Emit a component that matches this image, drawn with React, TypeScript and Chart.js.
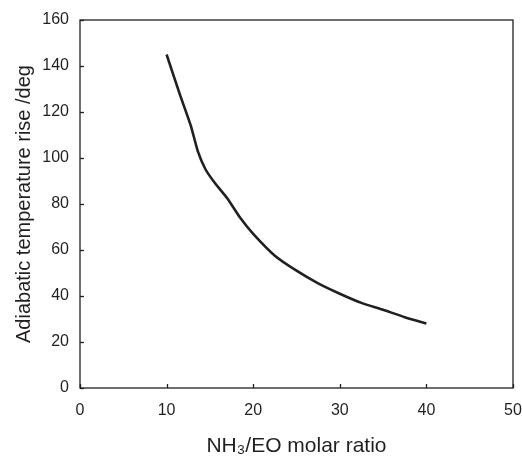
import React, { useEffect, useRef } from "react";
import { Chart, registerables } from "chart.js";

Chart.register(...registerables);

const ratioValues = [10, 11.5, 12.8, 13.6, 14.5, 15.6, 17, 18.5, 20, 22.5, 25, 27.5, 30, 32.5, 35, 37.5, 40];
const tempRise = [145, 128, 114, 103, 95, 89, 82.5, 74, 67, 57.5, 51, 45.5, 41, 37, 34, 30.8, 28];
const xTitle = "NH\u2083/EO molar ratio";
const yTitle = "Adiabatic temperature rise /deg";

const FONT = "'Liberation Sans', Arial, Helvetica, sans-serif";
const INK = "#231f20";

const frameAndTicks = {
  id: "frameAndTicks",
  afterDatasetsDraw(chart: any) {
    const { ctx, chartArea } = chart;
    const { left, right, top, bottom } = chartArea;
    ctx.save();
    ctx.strokeStyle = INK;
    ctx.lineWidth = 1.3;
    ctx.strokeRect(left, top, right - left, bottom - top);
    const len = 4;
    const xs = chart.scales.x;
    xs.ticks.forEach((t: any) => {
      const px = Math.round(xs.getPixelForValue(t.value)) + 0.5;
      ctx.beginPath();
      ctx.moveTo(px, bottom);
      ctx.lineTo(px, bottom - len);
      ctx.stroke();
    });
    const ys = chart.scales.y;
    ys.ticks.forEach((t: any) => {
      const py = Math.round(ys.getPixelForValue(t.value)) + 0.5;
      ctx.beginPath();
      ctx.moveTo(left, py);
      ctx.lineTo(left + len, py);
      ctx.stroke();
    });
    ctx.restore();
  },
};

export default function App() {
  const ref = useRef<HTMLCanvasElement | null>(null);
  useEffect(() => {
    document.body.style.margin = "0";
    const canvas = ref.current!;
    const chart = new Chart(canvas, {
      type: "line",
      data: {
        datasets: [
          {
            data: ratioValues.map((x, i) => ({ x, y: tempRise[i] })),
            borderColor: INK,
            borderWidth: 2.6,
            pointRadius: 0,
            tension: 0.2,
            fill: false,
          },
        ],
      },
      options: {
        animation: false,
        responsive: false,
        maintainAspectRatio: false,
        layout: { padding: { top: 20, right: 9, left: 0, bottom: 0 } },
        plugins: { legend: { display: false }, tooltip: { enabled: false } },
        scales: {
          x: {
            type: "linear",
            min: 0,
            max: 50,
            ticks: { stepSize: 10, color: INK, font: { family: FONT, size: 16 }, padding: 13, maxRotation: 0 },
            grid: { display: false, drawTicks: false },
            border: { display: false },
            title: { display: true, text: xTitle, color: INK, font: { family: FONT, size: 21 }, padding: { top: 0, bottom: 0 } },
            afterFit: (s: any) => { s.height = 71; s.paddingLeft = 0; s.paddingRight = 0; },
          },
          y: {
            type: "linear",
            min: 0,
            max: 160,
            ticks: { stepSize: 20, color: INK, font: { family: FONT, size: 16 }, padding: 11 },
            grid: { display: false, drawTicks: false },
            border: { display: false },
            title: { display: true, text: yTitle, color: INK, font: { family: FONT, size: 20 }, padding: { top: 12, bottom: 0 } },
            afterFit: (s: any) => { s.width = 80; s.paddingTop = 0; s.paddingBottom = 0; },
          },
        },
      },
      plugins: [frameAndTicks],
    });
    return () => chart.destroy();
  }, []);
  return <canvas ref={ref} width={522} height={459} style={{ display: "block" }} />;
}
